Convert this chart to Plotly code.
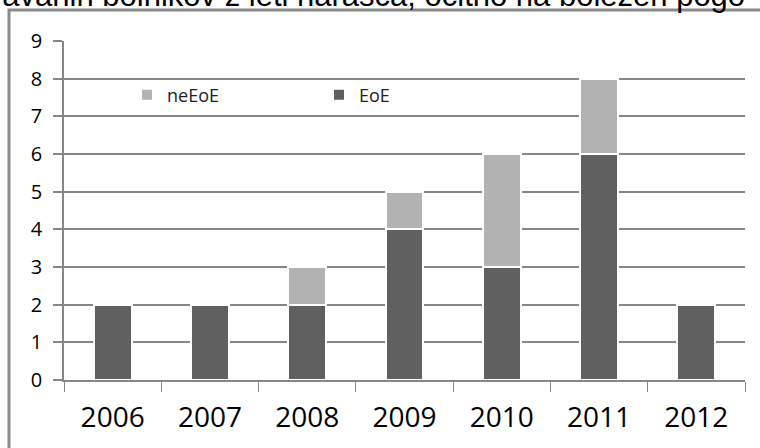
import plotly.graph_objects as go

years = ["2006", "2007", "2008", "2009", "2010", "2011", "2012"]
eoe = [2, 2, 2, 4, 3, 6, 2]
ne_eoe = [0, 0, 1, 1, 3, 2, 0]
y_ticks = [0, 1, 2, 3, 4, 5, 6, 7, 8, 9]
top_text = "ravanih bolnikov z leti narašča, očitno na bolezen pogo"

W, H = 760, 448
L, R, T, B = 64, 15, 41, 68
pw, ph = W - L - R, H - T - B

def px(x):
    return (x - L) / pw

def py(y):
    return (H - B - y) / ph

fig = go.Figure()
fig.add_trace(go.Bar(x=years, y=eoe, name="EoE", marker_color="#606060",
                     marker_line=dict(color="white", width=2), width=0.39))
fig.add_trace(go.Bar(x=years, y=ne_eoe, name="neEoE", marker_color="#b2b2b2",
                     marker_line=dict(color="white", width=2), width=0.39))

fig.update_layout(
    width=W, height=H,
    margin=dict(l=L, r=R, t=T, b=B),
    barmode="stack",
    plot_bgcolor="white", paper_bgcolor="white",
    font=dict(family="Open Sans, Liberation Sans, sans-serif", color="black"),
    legend=dict(orientation="h", x=px(127), y=py(95), yanchor="middle", xanchor="left",
                traceorder="reversed", entrywidth=147, entrywidthmode="pixels",
                font=dict(size=18, color="#222"), bgcolor="rgba(0,0,0,0)"),
    xaxis=dict(showline=True, linecolor="#868686", linewidth=1.5,
               ticks="outside", ticklen=10, tickcolor="#868686", tickwidth=1,
               tickson="boundaries", tickfont=dict(size=28), showgrid=False,
               ticklabelstandoff=12),
    yaxis=dict(range=[0, 9], tickvals=y_ticks, showline=True, linecolor="#868686", linewidth=1.5,
               ticks="outside", ticklen=9, tickcolor="#868686", tickwidth=1.5,
               gridcolor="#868686", gridwidth=1.5, tickfont=dict(size=20), zeroline=False,
               ticklabelstandoff=7),
    shapes=[dict(type="rect", xref="paper", yref="paper",
                 x0=px(9), x1=px(775), y0=py(470), y1=py(10),
                 line=dict(color="#8a8a8a", width=3), layer="below")],
    annotations=[dict(text=top_text, xref="paper", yref="paper", x=px(-10), y=py(15),
                      xanchor="left", yanchor="bottom", showarrow=False,
                      font=dict(family="Liberation Sans, Arial, sans-serif", size=31, color="black"))],
)

fig.write_html("out.html", config={"displayModeBar": False},
               post_script="document.body.style.margin='0';")
